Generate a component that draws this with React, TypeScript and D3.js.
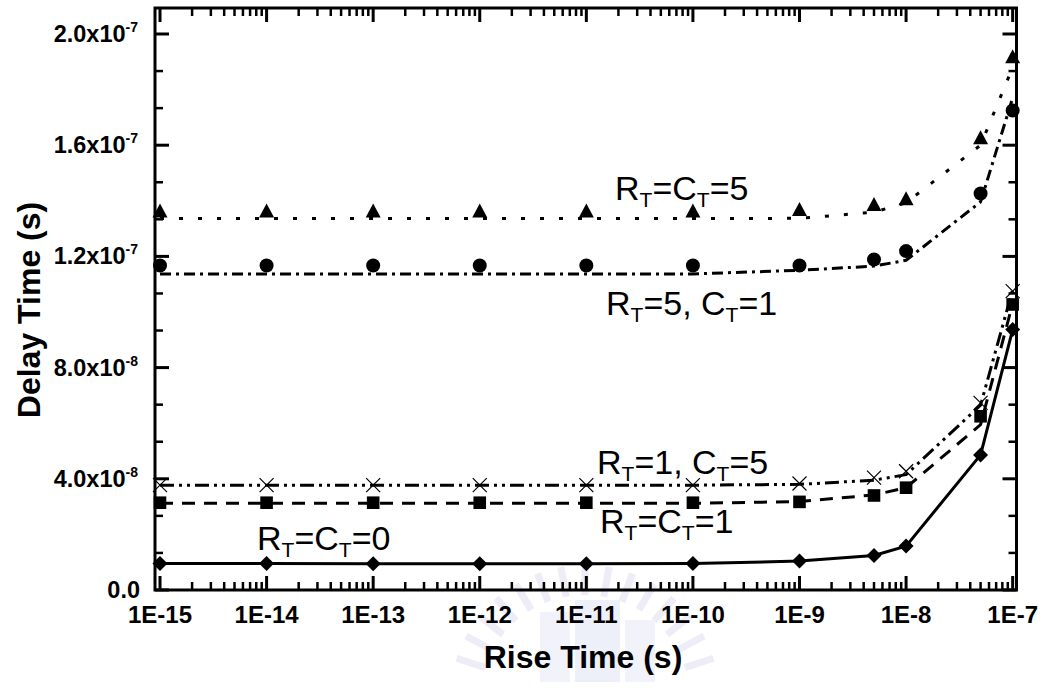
import React from "react";
import * as d3 from "d3";

// Rise times (s)
const riseTimes = [1e-15, 1e-14, 1e-13, 1e-12, 1e-11, 1e-10, 1e-9, 5e-9, 1e-8, 5e-8, 1e-7];

// R_T = C_T = 0 (diamonds, solid line)
const rc0Points = [9.5e-9, 9.5e-9, 9.4e-9, 9.4e-9, 9.4e-9, 9.5e-9, 1.04e-8, 1.24e-8, 1.58e-8, 4.86e-8, 9.37e-8];
const rc0Line = [9.5e-9, 9.5e-9, 9.4e-9, 9.4e-9, 9.4e-9, 9.5e-9, 1.04e-8, 1.24e-8, 1.58e-8, 4.86e-8, 9.37e-8];

// R_T = C_T = 1 (squares, dashed line)
const rc1Points = [3.14e-8, 3.14e-8, 3.14e-8, 3.14e-8, 3.14e-8, 3.14e-8, 3.17e-8, 3.4e-8, 3.68e-8, 6.25e-8, 1.027e-7];
const rc1Line = [3.12e-8, 3.12e-8, 3.12e-8, 3.12e-8, 3.12e-8, 3.12e-8, 3.18e-8, 3.42e-8, 3.68e-8, 5.95e-8, 1.03e-7];

// R_T = 1, C_T = 5 (crosses, dash-dot-dot line)
const r1c5Points = [3.77e-8, 3.77e-8, 3.77e-8, 3.77e-8, 3.77e-8, 3.77e-8, 3.83e-8, 4.04e-8, 4.27e-8, 6.73e-8, 1.075e-7];
const r1c5Line = [3.77e-8, 3.77e-8, 3.77e-8, 3.77e-8, 3.77e-8, 3.77e-8, 3.8e-8, 3.95e-8, 4.15e-8, 6.65e-8, 1.08e-7];

// R_T = 5, C_T = 1 (circles, dash-dot line)
const r5c1Points = [1.167e-7, 1.167e-7, 1.167e-7, 1.167e-7, 1.167e-7, 1.167e-7, 1.167e-7, 1.189e-7, 1.219e-7, 1.426e-7, 1.725e-7];
const r5c1Line = [1.137e-7, 1.137e-7, 1.137e-7, 1.137e-7, 1.137e-7, 1.137e-7, 1.15e-7, 1.165e-7, 1.186e-7, 1.396e-7, 1.77e-7];

// R_T = C_T = 5 (triangles, dotted line)
const rc5Points = [1.363e-7, 1.363e-7, 1.363e-7, 1.363e-7, 1.363e-7, 1.363e-7, 1.369e-7, 1.387e-7, 1.407e-7, 1.627e-7, 1.918e-7];
const rc5Line = [1.336e-7, 1.336e-7, 1.336e-7, 1.336e-7, 1.336e-7, 1.336e-7, 1.337e-7, 1.359e-7, 1.393e-7, 1.6e-7, 1.88e-7];

// Axis ticks
const xTickValues = [1e-15, 1e-14, 1e-13, 1e-12, 1e-11, 1e-10, 1e-9, 1e-8, 1e-7];
const xTickLabels = ["1E-15", "1E-14", "1E-13", "1E-12", "1E-11", "1E-10", "1E-9", "1E-8", "1E-7"];
const yTickValues = [0, 4e-8, 8e-8, 1.2e-7, 1.6e-7, 2e-7];
const yTickMantissa = ["0.0", "4.0x10", "8.0x10", "1.2x10", "1.6x10", "2.0x10"];
const yTickExponent = ["", "-8", "-8", "-7", "-7", "-7"];

const FONT = "Arial, 'Liberation Sans', Helvetica, sans-serif";

type Marker = "diamond" | "square" | "cross" | "circle" | "triangle";

function markerPath(kind: Marker, cx: number, cy: number): string {
  switch (kind) {
    case "diamond": {
      const h = 7.5;
      return `M${cx},${cy - h}L${cx + h},${cy}L${cx},${cy + h}L${cx - h},${cy}Z`;
    }
    case "square": {
      const h = 6.3;
      return `M${cx - h},${cy - h}H${cx + h}V${cy + h}H${cx - h}Z`;
    }
    case "triangle": {
      return `M${cx},${cy - 7.5}L${cx + 7.5},${cy + 6.5}L${cx - 7.5},${cy + 6.5}Z`;
    }
    case "cross": {
      const h = 7;
      return `M${cx - h},${cy - h}L${cx + h},${cy + h}M${cx - h},${cy + h}L${cx + h},${cy - h}`;
    }
    default:
      return "";
  }
}

export default function App() {
  const W = 1046;
  const H = 688;
  const left = 155;
  const right = 1016.5;
  const top = 8;
  const bottom = 590;

  const x = d3
    .scaleLog()
    .domain([Math.pow(10, -15.047), Math.pow(10, -6.964)])
    .range([left, right]);
  const y = d3.scaleLinear().domain([0, 2.0935e-7]).range([bottom, top]);

  const lineGen = d3
    .line<[number, number]>()
    .x((d) => x(d[0]))
    .y((d) => y(d[1]));

  const pair = (vals: number[]) => riseTimes.map((t, i) => [t, vals[i]] as [number, number]);

  const series = [
    { line: rc0Line, pts: rc0Points, marker: "diamond" as Marker, dash: "none" },
    { line: rc1Line, pts: rc1Points, marker: "square" as Marker, dash: "13,9" },
    { line: r1c5Line, pts: r1c5Points, marker: "cross" as Marker, dash: "14,5,3,5,3,5" },
    { line: r5c1Line, pts: r5c1Points, marker: "circle" as Marker, dash: "11,5,3,5" },
    { line: rc5Line, pts: rc5Points, marker: "triangle" as Marker, dash: "4,15" },
  ];

  // minor ticks
  const xMinor: number[] = [];
  for (let k = -15; k <= -8; k++) {
    for (let m = 2; m <= 9; m++) xMinor.push(m * Math.pow(10, k));
  }
  const yStep = 4e-8 / 3;
  const yAll = d3.range(0, 2.0935e-7, yStep).filter((v) => v <= 2.0935e-7);
  const yMinor = yAll.filter((_, i) => i % 3 !== 0);

  const majorLen = 14;
  const minorLen = 8;

  const annot = (
    xPos: number,
    yPos: number,
    parts: { t: string; sub?: boolean }[]
  ) => {
    let shift = 0;
    return (
      <text x={xPos} y={yPos} fontFamily={FONT} fontSize={34} fill="#000">
        {parts.map((p, i) => {
          const target = p.sub ? 7 : 0;
          const dy = target - shift;
          shift = target;
          return (
            <tspan key={i} dy={dy} fontSize={p.sub ? 21 : 34}>
              {p.t}
            </tspan>
          );
        })}
      </text>
    );
  };

  return (
    <svg
      width={W}
      height={H}
      style={{ position: "absolute", left: 0, top: 0, background: "#fff" }}
      xmlns="http://www.w3.org/2000/svg"
    >
      <rect x={0} y={0} width={W} height={H} fill="#fff" />

      {/* faint watermark */}
      <g opacity={0.5}>
        {d3.range(0, 15).map((i) => {
          const a = Math.PI * (1.1 + (i * 0.8) / 14);
          const cx = 585;
          const cy = 700;
          const r1 = 105;
          const r2 = 135;
          return (
            <line
              key={i}
              x1={cx + r1 * Math.cos(a)}
              y1={cy + r1 * Math.sin(a)}
              x2={cx + r2 * Math.cos(a)}
              y2={cy + r2 * Math.sin(a)}
              stroke="#dcdaf0"
              strokeWidth={7}
            />
          );
        })}
        <rect x={540} y={612} width={30} height={70} fill="#e4e6f6" />
        <rect x={575} y={600} width={45} height={82} fill="#dfe3f5" />
        <rect x={625} y={620} width={30} height={62} fill="#e4e6f6" />
      </g>

      <defs>
        <clipPath id="plotClip">
          <rect x={left} y={top} width={right - left} height={bottom - top} />
        </clipPath>
      </defs>

      {/* lines */}
      <g clipPath="url(#plotClip)">
        {series.map((s, i) => (
          <path
            key={i}
            d={lineGen(pair(s.line)) || ""}
            fill="none"
            stroke="#000"
            strokeWidth={3}
            strokeDasharray={s.dash === "none" ? undefined : s.dash}
            strokeLinejoin="round"
          />
        ))}
      </g>

      {/* markers */}
      <g>
        {series.map((s, i) =>
          riseTimes.map((t, j) => {
            const cx = x(t);
            const cy = y(s.pts[j]);
            if (s.marker === "circle") {
              return <circle key={`${i}-${j}`} cx={cx} cy={cy} r={7} fill="#000" />;
            }
            if (s.marker === "cross") {
              return (
                <path
                  key={`${i}-${j}`}
                  d={markerPath("cross", cx, cy)}
                  stroke="#000"
                  strokeWidth={1.2}
                  fill="none"
                />
              );
            }
            return <path key={`${i}-${j}`} d={markerPath(s.marker, cx, cy)} fill="#000" />;
          })
        )}
      </g>

      {/* ticks */}
      <g stroke="#000" strokeWidth={3}>
        {xTickValues.map((v, i) => (
          <g key={`xt${i}`}>
            <line x1={x(v)} x2={x(v)} y1={bottom} y2={bottom - majorLen} />
            <line x1={x(v)} x2={x(v)} y1={top} y2={top + majorLen} />
          </g>
        ))}
        {yTickValues.map((v, i) => (
          <g key={`yt${i}`}>
            <line x1={left} x2={left + majorLen} y1={y(v)} y2={y(v)} />
            <line x1={right} x2={right - majorLen} y1={y(v)} y2={y(v)} />
          </g>
        ))}
      </g>
      <g stroke="#000" strokeWidth={2.5}>
        {xMinor.map((v, i) => (
          <g key={`xm${i}`}>
            <line x1={x(v)} x2={x(v)} y1={bottom} y2={bottom - minorLen} />
            <line x1={x(v)} x2={x(v)} y1={top} y2={top + minorLen} />
          </g>
        ))}
        {yMinor.map((v, i) => (
          <g key={`ym${i}`}>
            <line x1={left} x2={left + minorLen} y1={y(v)} y2={y(v)} />
            <line x1={right} x2={right - minorLen} y1={y(v)} y2={y(v)} />
          </g>
        ))}
      </g>

      {/* frame */}
      <rect
        x={left}
        y={top}
        width={right - left}
        height={bottom - top}
        fill="none"
        stroke="#000"
        strokeWidth={3}
      />

      {/* x tick labels */}
      <g fontFamily={FONT} fontWeight="bold" fontSize={24} textAnchor="middle" fill="#000">
        {xTickValues.map((v, i) => (
          <text key={i} x={x(v)} y={623}>
            {xTickLabels[i]}
          </text>
        ))}
      </g>

      {/* y tick labels */}
      <g fontFamily={FONT} fontWeight="bold" fill="#000">
        {yTickValues.map((v, i) => (
          <text key={i} x={yTickExponent[i] ? 138 : 140} y={y(v) + 8} textAnchor="end" fontSize={23.5}>
            {yTickMantissa[i]}
            {yTickExponent[i] ? (
              <tspan dy={-10} fontSize={14}>
                {yTickExponent[i]}
              </tspan>
            ) : null}
          </text>
        ))}
      </g>

      {/* axis titles */}
      <text
        x={583}
        y={668}
        textAnchor="middle"
        fontFamily={FONT}
        fontWeight="bold"
        fontSize={32}
        fill="#000"
      >
        Rise Time (s)
      </text>
      <text
        transform={`translate(40,${310}) rotate(-90)`}
        textAnchor="middle"
        fontFamily={FONT}
        fontWeight="bold"
        fontSize={32}
        fill="#000"
      >
        Delay Time (s)
      </text>

      {/* annotations */}
      {annot(615, 200, [{ t: "R" }, { t: "T", sub: true }, { t: "=C" }, { t: "T", sub: true }, { t: "=5" }])}
      {annot(606, 315, [{ t: "R" }, { t: "T", sub: true }, { t: "=5, C" }, { t: "T", sub: true }, { t: "=1" }])}
      {annot(597, 474, [{ t: "R" }, { t: "T", sub: true }, { t: "=1, C" }, { t: "T", sub: true }, { t: "=5" }])}
      {annot(600, 533, [{ t: "R" }, { t: "T", sub: true }, { t: "=C" }, { t: "T", sub: true }, { t: "=1" }])}
      {annot(257, 550, [{ t: "R" }, { t: "T", sub: true }, { t: "=C" }, { t: "T", sub: true }, { t: "=0" }])}
    </svg>
  );
}
